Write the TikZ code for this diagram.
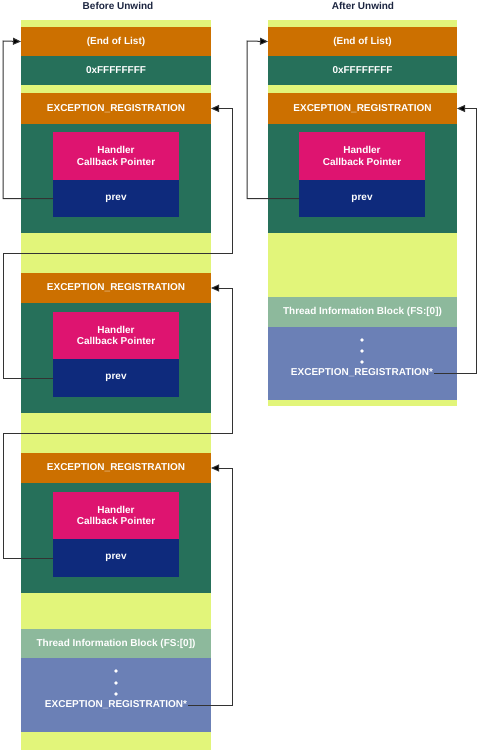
\documentclass[tikz,border=0pt]{standalone}
\usepackage{fontspec}
\setmainfont{Liberation Sans}
\usetikzlibrary{arrows.meta}
\definecolor{bgy}{HTML}{E2F57A}
\definecolor{org}{HTML}{CC7000}
\definecolor{grn}{HTML}{26705A}
\definecolor{pnk}{HTML}{DE1470}
\definecolor{nvy}{HTML}{0E2A7C}
\definecolor{tib}{HTML}{8DB99C}
\definecolor{blu}{HTML}{6B80B6}
\definecolor{ttl}{HTML}{1C2540}
\definecolor{lin}{HTML}{333333}
\newcommand\mkbox[6]{\node[blk,fill=#2,minimum width=#5bp,minimum height=#6bp] (#1) at (#3,#4) {};}
\newcommand\mkboxt[7]{\node[blk,lbl,fill=#2,minimum width=#5bp,minimum height=#6bp] (#1) at (#3,#4) {#7};}
\begin{document}
\begin{tikzpicture}[x=1bp,y=-1bp,
  blk/.style={draw=none,inner sep=0pt,outer sep=0pt,anchor=north west,rectangle},
  lbl/.style={font=\fontsize{10bp}{11.5bp}\selectfont\bfseries,text=white,align=center},
  ttlstyle/.style={font=\fontsize{10bp}{11.5bp}\selectfont\bfseries,text=ttl,inner sep=1pt},
  conn/.style={draw=lin,line width=1bp,-{Triangle[length=8bp,width=7bp,fill=black]}},
  dot/.style={fill=white}]
\useasboundingbox (0,0) rectangle (481,752);
% titles
\node[ttlstyle] (tL) at (118,6) {Before Unwind};
\node[ttlstyle] (tR) at (363,6) {After Unwind};
% ---------- left column ----------
\mkbox{bgL}{bgy}{21}{20}{190}{730}
\mkboxt{endL}{org}{21}{27}{190}{29}{(End of List)}
\mkboxt{ffL}{grn}{21}{56}{190}{29}{0xFFFFFFFF}
\mkboxt{er1}{org}{21}{93}{190}{31}{EXCEPTION\_REGISTRATION}
\mkbox{g1}{grn}{21}{124}{190}{109}
\mkboxt{h1}{pnk}{53}{132}{126}{48}{Handler\\Callback Pointer}
\mkboxt{p1}{nvy}{53}{180}{126}{37}{prev}
\mkboxt{er2}{org}{21}{273}{190}{30}{EXCEPTION\_REGISTRATION}
\mkbox{g2}{grn}{21}{303}{190}{110}
\mkboxt{h2}{pnk}{53}{312}{126}{47}{Handler\\Callback Pointer}
\mkboxt{p2}{nvy}{53}{359}{126}{38}{prev}
\mkboxt{er3}{org}{21}{453}{190}{30}{EXCEPTION\_REGISTRATION}
\mkbox{g3}{grn}{21}{483}{190}{110}
\mkboxt{h3}{pnk}{53}{492}{126}{47}{Handler\\Callback Pointer}
\mkboxt{p3}{nvy}{53}{539}{126}{38}{prev}
\mkboxt{tibL}{tib}{21}{629}{190}{29}{Thread Information Block (FS:[0])}
\mkbox{blL}{blu}{21}{658}{190}{74}
\fill[dot] (116,671) circle (1.9);
\fill[dot] (116,683) circle (1.9);
\fill[dot] (116,694) circle (1.9);
\node[lbl,inner sep=1pt] (exL) at (116,705) {EXCEPTION\_REGISTRATION*};
% ---------- right column ----------
\mkbox{bgR}{bgy}{268}{20}{189}{386}
\mkboxt{endR}{org}{268}{27}{189}{29}{(End of List)}
\mkboxt{ffR}{grn}{268}{56}{189}{29}{0xFFFFFFFF}
\mkboxt{erR}{org}{268}{93}{189}{31}{EXCEPTION\_REGISTRATION}
\mkbox{gR}{grn}{268}{124}{189}{109}
\mkboxt{hR}{pnk}{299}{132}{126}{48}{Handler\\Callback Pointer}
\mkboxt{pR}{nvy}{299}{180}{126}{37}{prev}
\mkboxt{tibR}{tib}{268}{297}{189}{30}{Thread Information Block (FS:[0])}
\mkbox{blR}{blu}{268}{327}{189}{73}
\fill[dot] (362,340) circle (1.9);
\fill[dot] (362,351) circle (1.9);
\fill[dot] (362,362) circle (1.9);
\node[lbl,inner sep=1pt] (exR) at (362,373) {EXCEPTION\_REGISTRATION*};
% ---------- connectors ----------
\coordinate (a1) at (3,41);
\coordinate (b1) at (3,253);
\coordinate (b2) at (232,253);
\coordinate (c1) at (3,433);
\coordinate (c2) at (232,433);
\coordinate (d1) at (232,705);
\coordinate (a2) at (247,41);
\coordinate (e1) at (476,373);
\draw[conn] (p1.west) -| (a1) -- (endL.west);
\draw[conn] (p2.west) -| (b1) -- (b2) |- (er1.east);
\draw[conn] (p3.west) -| (c1) -- (c2) |- (er2.east);
\draw[conn] (exL.east) -- (d1) |- (er3.east);
\draw[conn] (pR.west) -| (a2) -- (endR.west);
\draw[conn] (exR.east) -- (e1) |- (erR.east);
\end{tikzpicture}
\end{document}
